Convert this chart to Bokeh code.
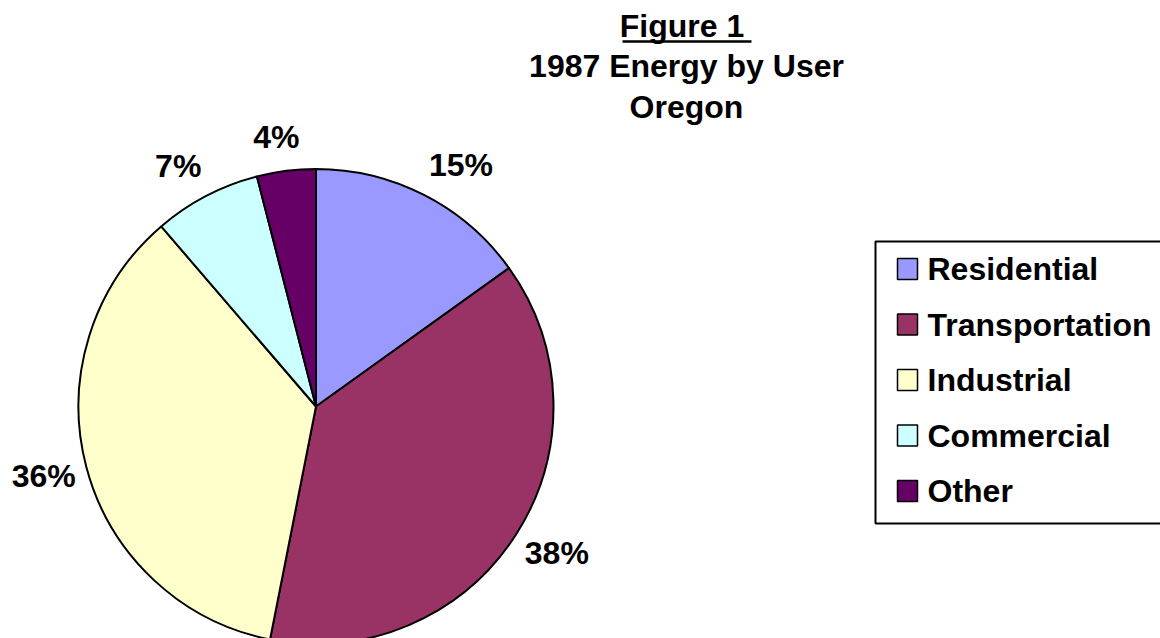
import numpy as np
from bokeh.plotting import figure
from bokeh.models import ColumnDataSource, Range1d
from bokeh.core.properties import value
from bokeh.embed import file_html
from bokeh.resources import INLINE

# ---- data ----
categories = ["Residential", "Transportation", "Industrial", "Commercial", "Other"]
shares = [15.1, 38.0, 35.6, 7.3, 4.0]
colors = ["#9999FF", "#993366", "#FFFFCC", "#CCFFFF", "#660066"]
title_lines = ["Figure 1 ", "1987 Energy by User", "Oregon"]

W, H = 1160, 638
FONT = "Liberation Sans"
FS = 32

p = figure(width=W, height=H, output_backend="svg", toolbar_location=None,
           x_axis_type=None, y_axis_type=None, min_border=0,
           x_range=Range1d(0, W), y_range=Range1d(0, H))
p.outline_line_color = None
p.grid.visible = False
p.background_fill_color = "white"
p.border_fill_color = "white"

def Y(screen_y):
    return H - np.asarray(screen_y, dtype=float)

# ---- pie ----
cx, cy, R = 315.5, float(Y(406)), 237.5
vals = np.array(shares, dtype=float)
frac = vals / vals.sum()
cum = np.cumsum(frac)
prev = cum - frac
start = np.deg2rad(90 - cum * 360)
end = np.deg2rad(90 - prev * 360)
mid = (start + end) / 2

src = ColumnDataSource(dict(cat=categories, start=start, end=end, color=colors))
p.wedge(x=cx, y=cy, radius=R, start_angle="start", end_angle="end",
        direction="anticlock", fill_color="color", line_color="black",
        line_width=2, source=src)

# ---- percent labels ----
labels = [f"{round(v)}%" for v in shares]
pad = 12
hh = 22
cosm, sinm = np.cos(mid), np.sin(mid)
hw = np.array([(0.556 * (len(s) - 1) + 0.889) * 31 / 2 for s in labels])
lx = cx + (R + pad) * cosm + hw * np.clip(cosm * 3, -1, 1)
ly = cy + (R + pad) * sinm + hh * sinm
p.text(x=lx, y=ly, text=labels, text_font=value(FONT), text_font_style="bold",
       text_font_size=f"{FS}px", text_align="center", text_baseline="middle",
       text_color="black")

# ---- title ----
tx = 686
tys = Y([25, 65.5, 106])
p.text(x=[tx] * 3, y=tys, text=title_lines, text_font=value(FONT),
       text_font_style="bold", text_font_size=f"{FS}px", text_align="center",
       text_baseline="middle", text_color="black")
p.segment(x0=[622], y0=[float(Y(41))], x1=[751], y1=[float(Y(41))],
          line_color="black", line_width=2.5)

# ---- legend ----
p.quad(left=[875], right=[1220], top=[float(Y(241))], bottom=[float(Y(523))],
       fill_color="white", line_color="black", line_width=2)
n = len(categories)
rows = np.arange(n)
row_y = Y(268.5 + rows * 55.5)
p.rect(x=[907] * n, y=row_y, width=20, height=21, fill_color=colors,
       line_color="black", line_width=1.5)
p.text(x=[927] * n, y=row_y, text=categories, text_font=value(FONT),
       text_font_style="bold", text_font_size=f"{FS}px", text_align="left",
       text_baseline="middle", text_color="black")

open("out.html", "w").write(file_html(p, INLINE))
